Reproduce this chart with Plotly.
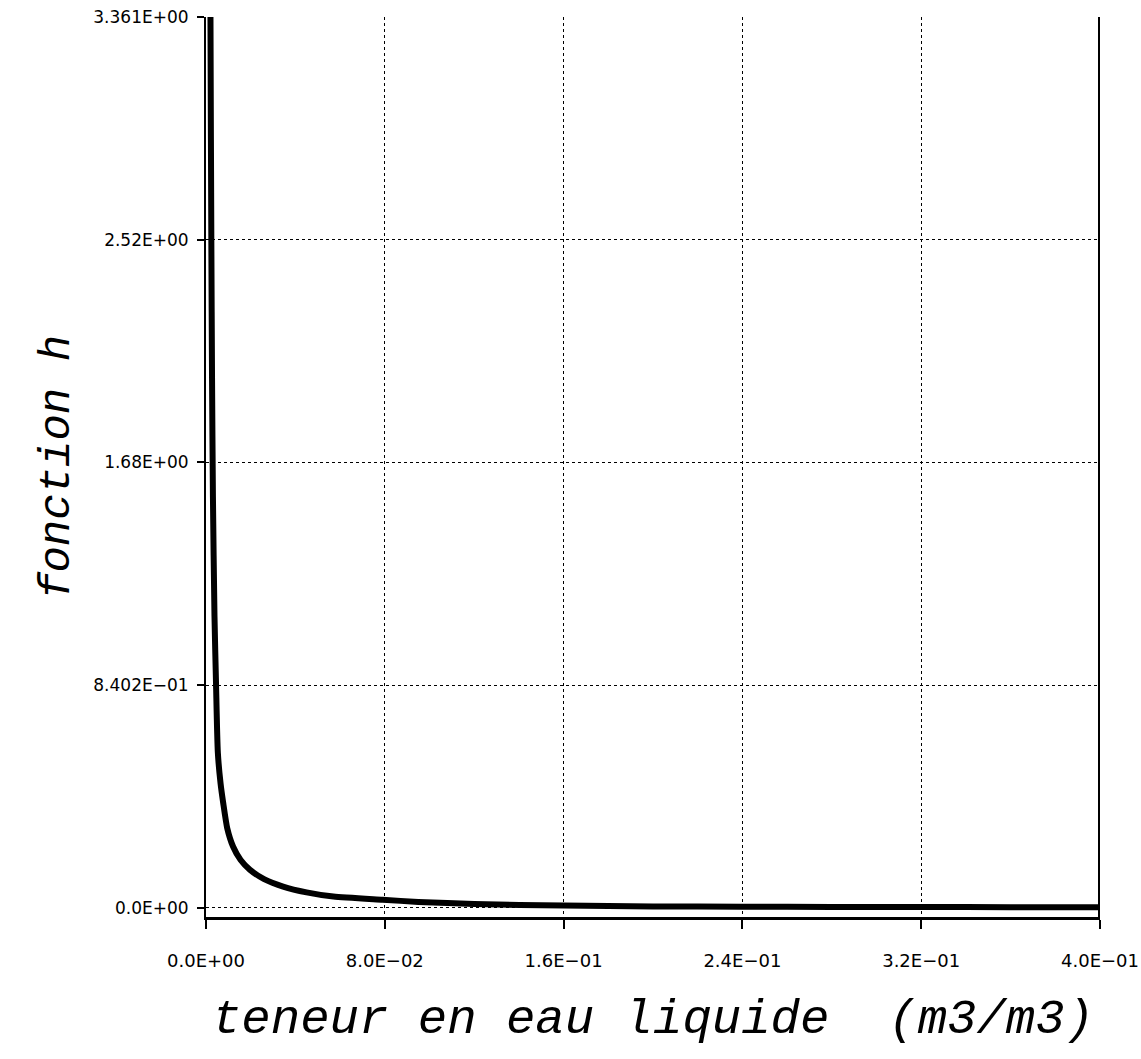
import plotly.graph_objects as go

# Water content (m3/m3) and the corresponding h function values
theta = [0.0020, 0.0022, 0.0024, 0.0027, 0.0031, 0.0038, 0.0045, 0.0053, 0.0065,
         0.0077, 0.0095, 0.0121, 0.0155, 0.0197, 0.026, 0.0345, 0.045, 0.057,
         0.079, 0.095, 0.12, 0.16, 0.20, 0.24, 0.28, 0.32, 0.36, 0.40]
h_value = [3.361, 2.90, 2.50, 2.00, 1.55, 1.10, 0.84, 0.585, 0.47,
           0.395, 0.30, 0.231, 0.180, 0.143, 0.108, 0.080, 0.058, 0.042,
           0.030, 0.022, 0.014, 0.008, 0.005, 0.004, 0.003, 0.003, 0.002, 0.002]

x_ticks = [0.0, 0.08, 0.16, 0.24, 0.32, 0.40]
x_tick_labels = ["0.0E+00", "8.0E\u221202", "1.6E\u221201", "2.4E\u221201", "3.2E\u221201", "4.0E\u221201"]
y_ticks = [0.0, 0.8402, 1.68, 2.52, 3.361]
y_tick_labels = ["0.0E+00", "8.402E\u221201", "1.68E+00", "2.52E+00", "3.361E+00"]

x_title = "teneur en eau liquide  (m3/m3)"
y_title = "fonction h"

x_tick_font = dict(family="DejaVu Sans", size=18, color="black")
y_tick_font = dict(family="DejaVu Sans", size=17, color="black")
x_title_font = dict(family="Liberation Mono", size=49, color="black", style="italic")
y_title_font = dict(family="Liberation Mono", size=44, color="black", style="italic")

fig = go.Figure()
fig.add_trace(go.Scatter(
    x=theta, y=h_value, mode="lines",
    line=dict(color="black", width=6, shape="spline", smoothing=0.6),
    showlegend=False, hoverinfo="skip",
))

# right-hand frame edge
fig.add_shape(type="line", xref="x", yref="y", x0=0.40, x1=0.40, y0=-0.035, y1=3.361,
              line=dict(color="black", width=4))

fig.update_layout(
    width=1141, height=1059,
    margin=dict(l=206, r=41, t=17, b=142),
    paper_bgcolor="white", plot_bgcolor="white",
    xaxis=dict(
        range=[0, 0.40], tickvals=x_ticks, ticktext=x_tick_labels,
        showgrid=True, gridcolor="black", griddash="dot", gridwidth=1.3,
        showline=True, linecolor="black", linewidth=3,
        ticks="outside", ticklen=9, tickwidth=2, tickcolor="black",
        ticklabelstandoff=16, tickfont=x_tick_font, zeroline=False, automargin=False,
        title=dict(text=x_title, font=x_title_font, standoff=30),
    ),
    yaxis=dict(
        range=[-0.035, 3.361], tickvals=y_ticks, ticktext=y_tick_labels,
        showgrid=True, gridcolor="black", griddash="dot", gridwidth=1.3,
        showline=True, linecolor="black", linewidth=2,
        ticks="outside", ticklen=7, tickwidth=2, tickcolor="black",
        ticklabelstandoff=5, tickfont=y_tick_font, zeroline=False, automargin=False,
        title=dict(text=y_title, font=y_title_font, standoff=10),
    ),
)

fig.write_html("out.html")
